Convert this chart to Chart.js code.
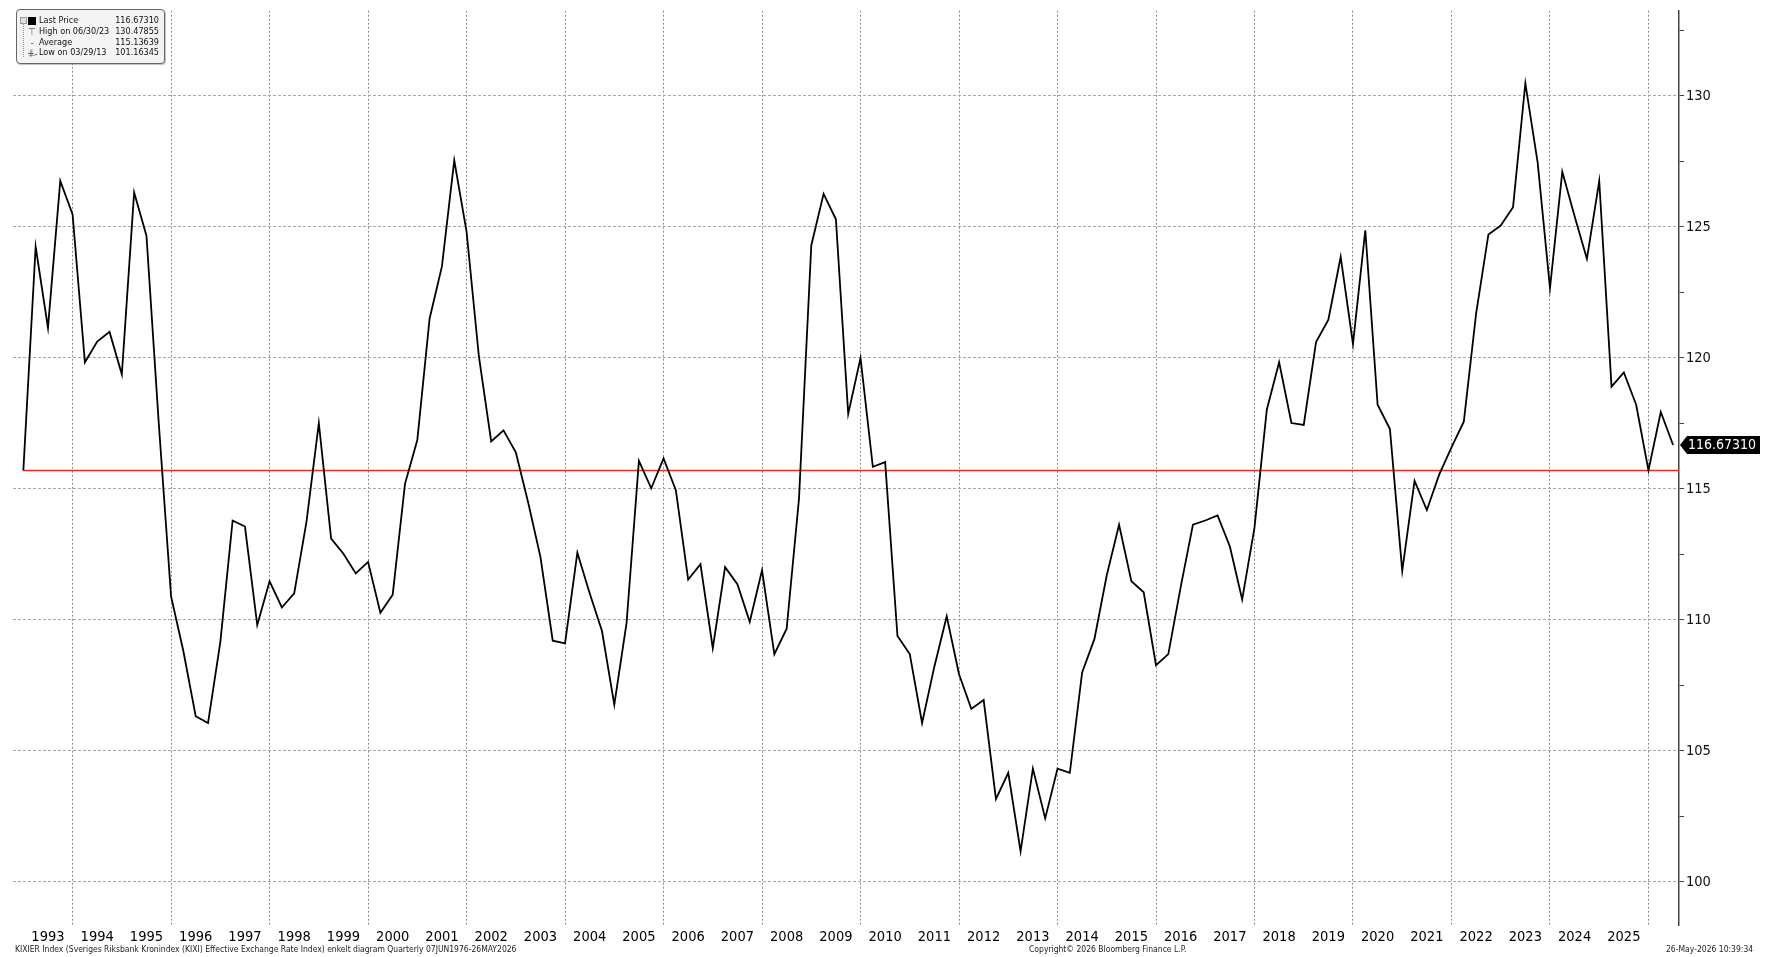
<!DOCTYPE html>
<html>
<head>
<meta charset="utf-8">
<title>KIXIER Index</title>
<script src="https://cdn.jsdelivr.net/npm/chart.js@4"></script>
<style>
  html, body { margin: 0; padding: 0; background: #fff; }
  #wrap { position: relative; width: 1765px; height: 957px; overflow: hidden; }
  #chart { position: absolute; left: 0; top: 0; }
  .cond { font-family: 'DejaVu Sans Condensed', 'DejaVu Sans', sans-serif; }
  #legend {
    position: absolute; left: 16px; top: 9px; width: 147px; height: 53px;
    background: #f4f4f4; border: 1px solid #666; border-radius: 4px;
    box-shadow: 1px 1px 1px rgba(0,0,0,0.25);
    font-size: 9px; color: #111;
  }
  #legend .row { position: absolute; left: 0; width: 100%; height: 11px; line-height: 11px; }
  #legend .lbl { position: absolute; left: 22px; }
  #legend .val { position: absolute; right: 5px; }
  #legend .ico { position: absolute; left: 10px; width: 10px; text-align: center; color: #666; font-size: 10px; }
  #legend .tree { position: absolute; left: 6px; top: 9px; width: 4px; height: 38px; border-left: 1px dotted #999; }
  .foot { position: absolute; top: 944px; font-size: 8.5px; color: #222; white-space: nowrap; }
</style>
</head>
<body>
<div id="wrap">
  <canvas id="chart" width="1765" height="957"></canvas>
  <div id="legend" class="cond"></div>
  <div class="foot cond" style="left:15px">KIXIER Index (Sveriges Riksbank Kronindex (KIXI) Effective Exchange Rate Index) enkelt diagram Quarterly 07JUN1976-26MAY2026</div>
  <div class="foot cond" style="left:1029px">Copyright© 2026 Bloomberg Finance L.P.</div>
  <div class="foot cond" style="left:1666px">26-May-2026 10:39:34</div>
</div>
<script>
// quarterly KIXI values, first point = end of 1992, one point per quarter
const startYear = 1993;
const kixi = [
  115.70, 124.24, 121.15, 126.75, 125.47, 119.83, 120.62, 120.99, 119.37, 126.31,
  124.66, 117.50, 110.89, 108.80, 106.32, 106.06, 109.15, 113.79, 113.56, 109.80,
  111.47, 110.47, 111.01, 113.75, 117.51, 113.10, 112.52, 111.77, 112.21, 110.27,
  110.96, 115.19, 116.86, 121.50, 123.49, 127.54, 124.82, 120.06, 116.81, 117.23,
  116.39, 114.49, 112.40, 109.20, 109.10, 112.56, 111.01, 109.57, 106.76, 109.89,
  116.07, 115.02, 116.16, 114.95, 111.54, 112.12, 108.92, 112.01, 111.36, 109.92,
  111.89, 108.69, 109.66, 114.61, 124.29, 126.26, 125.29, 117.86, 119.99, 115.84,
  116.02, 109.38, 108.69, 106.06, 108.22, 110.13, 107.92, 106.60, 106.94, 103.16,
  104.16, 101.16, 104.32, 102.42, 104.32, 104.16, 107.99, 109.27, 111.70, 113.63,
  111.47, 111.05, 108.27, 108.69, 111.24, 113.63, 113.79, 113.98, 112.80, 110.78,
  113.52, 118.02, 119.83, 117.51, 117.44, 120.60, 121.46, 123.85, 120.53, 124.87,
  118.21, 117.28, 111.87, 115.30, 114.19, 115.54, 116.58, 117.56, 121.69, 124.71,
  125.05, 125.75, 130.48, 127.45, 122.66, 127.10, 125.40, 123.78, 126.75, 118.90,
  119.44, 118.21, 115.70, 117.93, 116.67
];
const refLevel = 115.70;

const yearLabels = [];
for (let y = 1993; y <= 2025; y++) yearLabels.push(y);
const gridYears = [1994, 1996, 1998, 2000, 2002, 2004, 2006, 2008, 2010, 2012,
  2014, 2016, 2018, 2020, 2022, 2024, 2026];
const yTicks = [100, 102.5, 105, 107.5, 110, 112.5, 115, 117.5, 120, 122.5, 125, 127.5, 130, 132.5];

const legendLabels = ['Last Price', 'High on 06/30/23', 'Average', 'Low on 03/29/13'];
const legendValues = [116.67310, 130.47855, 115.13639, 101.16345];
const legendIcons = ['', '\u22A4', '-+-', '\u22A5'];

const xMin = 1992.79, xMax = 2026.62;
const FONT = "'DejaVu Sans Condensed', 'DejaVu Sans', sans-serif";

// legend box
const lg = document.getElementById('legend');
let lh = '<div class="tree"></div>';
legendLabels.forEach((l, i) => {
  const ico = i === 0
    ? '<span style="position:absolute;left:3px;top:2px;width:5px;height:5px;border:1px solid #999;background:#ddd"></span><span style="position:absolute;left:11px;top:2px;width:8px;height:8px;background:#000"></span>'
    : `<span class="ico">${legendIcons[i]}</span>`;
  lh += `<div class="row" style="top:${5 + i * 10.8}px">${ico}<span class="lbl">${l}</span><span class="val">${legendValues[i].toFixed(5)}</span></div>`;
});
lg.innerHTML = lh;

const lastTag = {
  id: 'lastTag',
  afterDraw(chart) {
    const { ctx, chartArea } = chart;
    const y = chart.scales.y.getPixelForValue(legendValues[0]);
    const x0 = chartArea.right + 1;
    ctx.save();
    ctx.fillStyle = '#000';
    ctx.beginPath();
    ctx.moveTo(x0, y);
    ctx.lineTo(x0 + 7, y - 9);
    ctx.lineTo(x0 + 80, y - 9);
    ctx.lineTo(x0 + 80, y + 9);
    ctx.lineTo(x0 + 7, y + 9);
    ctx.closePath();
    ctx.fill();
    ctx.fillStyle = '#fff';
    ctx.font = '14px ' + FONT;
    ctx.textBaseline = 'middle';
    ctx.fillText(legendValues[0].toFixed(5), x0 + 8, y + 0.5);
    ctx.restore();
  }
};

new Chart(document.getElementById('chart'), {
  type: 'line',
  data: {
    datasets: [
      {
        label: 'KIXIER',
        data: kixi.map((v, i) => ({ x: startYear + i * 0.25, y: v })),
        borderColor: '#000',
        borderWidth: 1.8,
        pointRadius: 0,
        tension: 0,
        order: 1
      },
      {
        label: 'ref',
        data: [{ x: startYear, y: refLevel }, { x: xMax, y: refLevel }],
        borderColor: '#ee2a24',
        borderWidth: 1.5,
        pointRadius: 0,
        order: 2
      }
    ]
  },
  options: {
    responsive: false,
    animation: false,
    events: [],
    layout: { padding: { left: 13, top: 7, right: 0, bottom: 0 } },
    plugins: { legend: { display: false }, tooltip: { enabled: false } },
    scales: {
      x: {
        type: 'linear',
        min: xMin,
        max: xMax,
        afterBuildTicks: (s) => {
          const vals = gridYears.concat(yearLabels.map(y => y + 0.5)).sort((a, b) => a - b);
          s.ticks = vals.map(v => ({ value: v }));
        },
        afterFit: (s) => { s.height = 32; },
        ticks: {
          autoSkip: false,
          maxRotation: 0,
          minRotation: 0,
          padding: 4,
          color: '#000',
          font: { family: FONT, size: 14.5 },
          callback: (v) => (v % 1 === 0.5 ? String(Math.floor(v)) : '')
        },
        grid: {
          drawTicks: false,
          lineWidth: 1,
          color: (c) => (c.tick && gridYears.includes(c.tick.value) ? '#8a8a8a' : 'transparent')
        },
        border: { display: false, dash: [2, 2] }
      },
      y: {
        position: 'right',
        min: 98.35,
        max: 133.25,
        afterBuildTicks: (s) => { s.ticks = yTicks.map(v => ({ value: v })); },
        afterFit: (s) => { s.width = 86; },
        ticks: {
          padding: 2,
          color: '#111',
          font: { family: FONT, size: 14.5 },
          callback: (v) => (v % 5 === 0 ? String(v) : '')
        },
        grid: {
          tickLength: 5,
          lineWidth: 1,
          tickColor: '#444',
          color: (c) => (c.tick && c.tick.value % 5 === 0 ? '#a8a8a8' : 'transparent')
        },
        border: { display: true, color: '#444', width: 1.5, dash: [3, 2] }
      }
    }
  },
  plugins: [lastTag]
});
</script>
</body>
</html>
